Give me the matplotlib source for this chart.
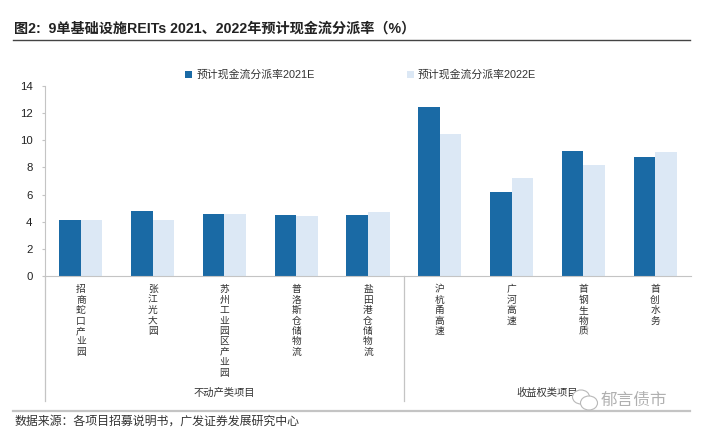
import matplotlib
matplotlib.use("Agg")
from matplotlib import pyplot as plt
from matplotlib.patches import Ellipse
import numpy as np

plt.rcParams['font.family'] = ['Liberation Sans', 'Noto Sans CJK SC', 'DejaVu Sans']

categories = ['招商蛇口产业园', '张江光大园', '苏州工业园区产业园', '普洛斯仓储物流', '盐田港仓储物流',
              '沪杭甬高速', '广河高速', '首钢生物质', '首创水务']
rate_2021 = [4.15, 4.8, 4.6, 4.5, 4.5, 12.45, 6.2, 9.2, 8.8]
rate_2022 = [4.15, 4.15, 4.55, 4.45, 4.75, 10.5, 7.2, 8.2, 9.15]
yticks = [0, 2, 4, 6, 8, 10, 12, 14]

W, H = 708, 443
DARK = '#1a6aa5'
LIGHT = '#dce8f5'
GRAY = '#c4c4c4'

fig = plt.figure(figsize=(W / 100, H / 100), dpi=100)
ax = fig.add_axes([45 / W, 1 - 276 / H, 646 / W, 190 / H])

x = np.arange(len(categories))
width = 0.3
ax.bar(x - width / 2, rate_2021, width, color=DARK, label='预计现金流分派率2021E')
ax.bar(x + width / 2, rate_2022, width, color=LIGHT, label='预计现金流分派率2022E')

ax.set_xlim(-0.5, len(categories) - 0.5)
ax.set_ylim(0, 14)
ax.set_yticks(yticks)
ax.tick_params(axis='y', labelsize=8.2, length=2, color=GRAY, pad=7, labelcolor='#222222')

ax.set_xticks(x)
ax.set_xticklabels(['\n'.join(c) for c in categories], fontsize=7.0, color='#333333',
                   linespacing=1.05)
ax.tick_params(axis='x', length=0, pad=6)

for s in ['top', 'right']:
    ax.spines[s].set_visible(False)
ax.spines['left'].set_color(GRAY)
ax.spines['bottom'].set_color(GRAY)

ax.legend(loc='upper left', bbox_to_anchor=(135 / 646, 1.115), ncols=2, frameon=False,
          fontsize=7.8, handlelength=0.65, handleheight=0.65, handletextpad=0.35,
          columnspacing=8.5, borderpad=0, labelcolor='#333333')


def fig_line(x0, y0, x1, y1, color, lw):
    fig.add_artist(plt.Line2D([x0 / W, x1 / W], [1 - y0 / H, 1 - y1 / H], color=color, lw=lw))


def fig_text(px, py, s, **kw):
    fig.text(px / W, 1 - py / H, s, va='center', **kw)


# title and footer rules
fig_line(13, 40, 690, 40, '#444444', 1.0)
fig_line(13, 411, 690, 411, GRAY, 1.6)

# group separators below the axis
fig_line(45, 276, 45, 401, GRAY, 0.9)
fig_line(404, 276, 404, 401, GRAY, 0.9)

fig_text(14, 29, '图2:  9单基础设施REITs 2021、2022年预计现金流分派率（%）',
         fontsize=10.2, fontweight='bold', color='#222222')
fig_text(224, 393, '不动产类项目', fontsize=7.4, ha='center', color='#333333')
fig_text(547, 393, '收益权类项目', fontsize=7.4, ha='center', color='#333333')
fig_text(14, 422, '数据来源：各项目招募说明书，广发证券发展研究中心', fontsize=8.6, color='#333333')

# watermark
fig_text(601, 400, '郁言债市', fontsize=12, color='#a8a8a8', alpha=0.9)
for cx, cy, w, h in [(581, 397, 17, 14), (589, 403, 17, 14)]:
    fig.add_artist(Ellipse((cx / W, 1 - cy / H), w / W, h / H, fc='white', ec='#b8b8b8', lw=0.8,
                           transform=fig.transFigure, zorder=5))

fig.savefig('out.png', dpi=100)
